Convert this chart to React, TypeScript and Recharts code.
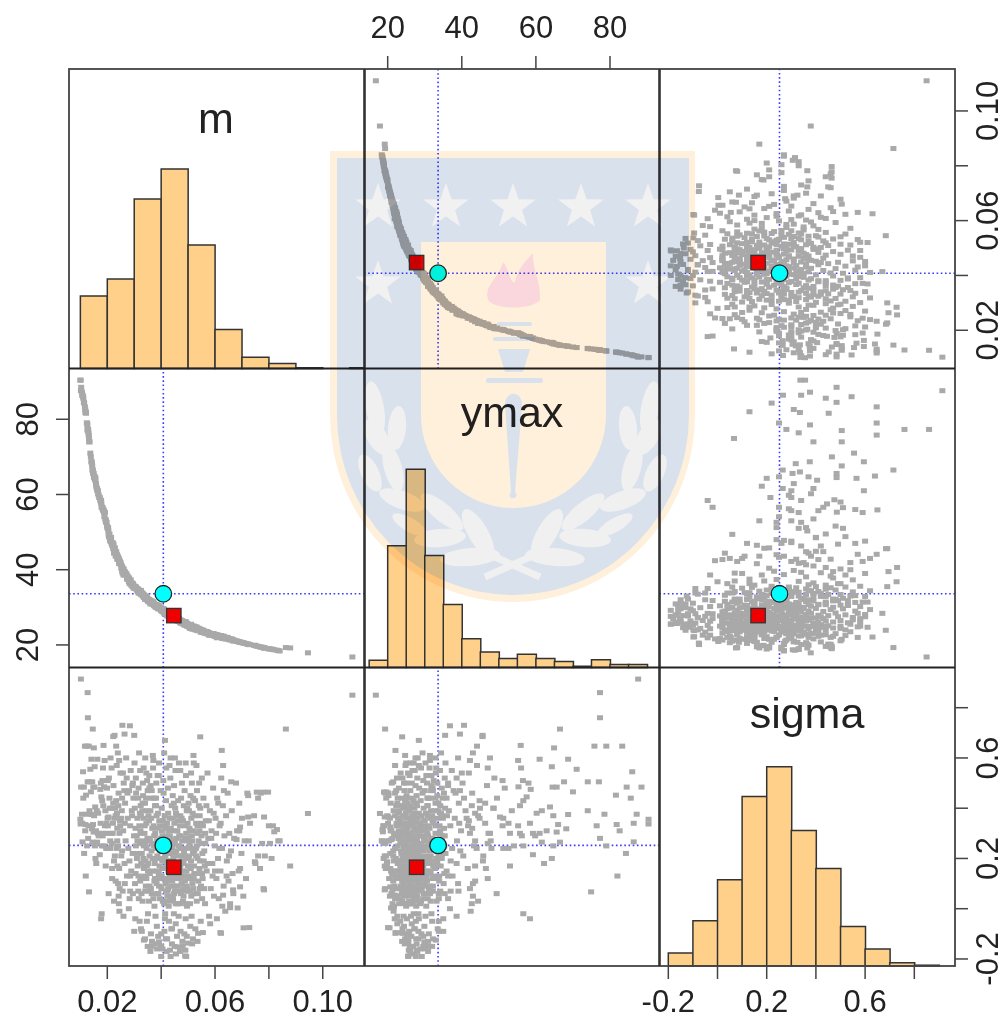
import { Bar, ComposedChart, ReferenceLine, Scatter, XAxis, YAxis } from 'recharts';

const PAGE_W = 1005;
const PAGE_H = 1019;
const colEdges = [69, 364.5, 659.5, 955];
const rowEdges = [69, 368.5, 667.5, 966];

// posterior sample, one row of each array = the same ten draws
const mValues = [
  .0100, .0101, .0103, .0102, .0106, .0107, .0108, .0110, .0111, .0113,
  .0114, .0117, .0118, .0120, .0119, .0121, .0124, .0125, .0126, .0127,
  .0128, .0129, .0127, .0130, .0131, .0132, .0133, .0134, .0137, .0139,
  .0141, .0153, .0150, .0146, .0163, .0144, .0152, .0148, .0142, .0155,
  .0161, .0151, .0147, .0143, .0149, .0145, .0154, .0156, .0159, .0165,
  .0162, .0170, .0168, .0172, .0175, .0166, .0158, .0186, .0190, .0184,
  .0182, .0176, .0188, .0174, .0181, .0178, .0185, .0191, .0183, .0187,
  .0195, .0197, .0204, .0201, .0193, .0199, .0202, .0180, .0189, .0196,
  .0203, .0194, .0179, .0177, .0256, .0264, .0227, .0233, .0239, .0244,
  .0212, .0216, .0258, .0272, .0295, .0293, .0263, .0255, .0222, .0229,
  .0241, .0236, .0209, .0221, .0231, .0251, .0248, .0245, .0237, .0234,
  .0213, .0217, .0210, .0225, .0238, .0218, .0240, .0246, .0242, .0243,
  .0284, .0300, .0222, .0414, .0545, .0520, .0625, .0630, .0660, .0723,
  .0755, .0778, .0797, .0723, .0782, .0815, .0830, .0835, .0804, .0693,
  .0680, .0810, .0879, .0945, .0863, .0748, .0767, .0782, .0727, .0684,
  .0622, .0693, .0667, .0630, .0693, .0489, .0433, .0392, .0462, .0336,
  .0328, .0537, .0518, .0500, .1110, .0493, .0455, .0490, .0480, .0440,
  .0400, .0350, .0620, .0555, .0706, .0656, .0780, .0760, .0725, .0690,
  .0840, .0820, .0800, .0785, .0775, .0770, .0760, .0750, .0745, .0730,
  .0720, .0715, .0710, .0705, .0700, .0698, .0690, .0688, .0682, .0678,
  .0301, .0304, .0307, .0310, .0312, .0315, .0318, .0321, .0324, .0327,
  .0303, .0306, .0309, .0313, .0316, .0319, .0322, .0325, .0328, .0330,
  .0331, .0333, .0336, .0338, .0341, .0343, .0346, .0348, .0351, .0353,
  .0332, .0335, .0337, .0340, .0342, .0345, .0347, .0350, .0352, .0354,
  .0356, .0358, .0360, .0362, .0364, .0367, .0369, .0371, .0373, .0376,
  .0357, .0359, .0361, .0363, .0366, .0368, .0370, .0372, .0375, .0377,
  .0378, .0380, .0382, .0384, .0386, .0388, .0390, .0392, .0394, .0396,
  .0379, .0381, .0383, .0385, .0387, .0389, .0391, .0393, .0395, .0398,
  .0401, .0403, .0405, .0407, .0409, .0411, .0413, .0415, .0417, .0419,
  .0402, .0404, .0406, .0408, .0410, .0412, .0414, .0416, .0418, .0420,
  .0421, .0423, .0425, .0427, .0429, .0431, .0433, .0435, .0437, .0439,
  .0422, .0424, .0426, .0428, .0430, .0432, .0434, .0436, .0438, .0440,
  .0441, .0443, .0445, .0447, .0449, .0451, .0453, .0455, .0457, .0459,
  .0442, .0444, .0446, .0448, .0450, .0452, .0454, .0456, .0458, .0460,
  .0461, .0463, .0465, .0467, .0469, .0471, .0473, .0475, .0477, .0479,
  .0462, .0464, .0466, .0468, .0470, .0472, .0474, .0476, .0478, .0480,
  .0481, .0483, .0485, .0487, .0489, .0491, .0493, .0495, .0497, .0499,
  .0482, .0484, .0486, .0488, .0490, .0492, .0494, .0496, .0498, .0500,
  .0502, .0504, .0506, .0508, .0510, .0512, .0514, .0516, .0518, .0520,
  .0503, .0505, .0507, .0509, .0511, .0513, .0515, .0517, .0519, .0521,
  .0523, .0526, .0529, .0532, .0535, .0538, .0541, .0544, .0547, .0550,
  .0524, .0527, .0530, .0533, .0536, .0539, .0542, .0545, .0548, .0551,
  .0554, .0557, .0560, .0563, .0566, .0569, .0572, .0575, .0578, .0581,
  .0584, .0587, .0590, .0593, .0596, .0599, .0602, .0605, .0608, .0611,
  .0614, .0617, .0620, .0623, .0626, .0629, .0632, .0635, .0638, .0641,
  .0644, .0647, .0650, .0653, .0656, .0659, .0662, .0665, .0668, .0671,
  .0362, .0374, .0384, .0397, .0406, .0416, .0426, .0436, .0446, .0456,
  .0411, .0421, .0431, .0441, .0451, .0461, .0471, .0481, .0491, .0501,
  .0414, .0424, .0434, .0444, .0454, .0464, .0474, .0484, .0494, .0504,
  .0382, .0392, .0402, .0412, .0422, .0432, .0442, .0452, .0462, .0472,
  .0375, .0385, .0395, .0405, .0415, .0425, .0435, .0445, .0455, .0465,
  .0418, .0428, .0438, .0448, .0458, .0468, .0478, .0488, .0498, .0508,
  .0347, .0357, .0367, .0377, .0387, .0397, .0407, .0417, .0427, .0437,
  .0472, .0482, .0492, .0502, .0512, .0522, .0532, .0542, .0552, .0562,
  .0473, .0483, .0493, .0503, .0513, .0523, .0533, .0543, .0553, .0563,
  .0282, .0292, .0302, .0312, .0322, .0332, .0342, .0352, .0362, .0372,
  .0202, .0206, .0208, .0211, .0214, .0218, .0220, .0223, .0226, .0228,
  .0231, .0233, .0235, .0237, .0240, .0242, .0244, .0247, .0249, .0252,
  .0254, .0257, .0259, .0261, .0264, .0266, .0268, .0270, .0273, .0276,
  .0278, .0281, .0283, .0285, .0287, .0289, .0291, .0294, .0297, .0299,
  .0255, .0265, .0275, .0285, .0295, .0305, .0315, .0325, .0335, .0345,
  .0311, .0316, .0321, .0326, .0331, .0336, .0341, .0346, .0351, .0356,
  .0306, .0317, .0323, .0334, .0344, .0349, .0355, .0365, .0374, .0383,
  .0503, .0508, .0514, .0519, .0525, .0530, .0535, .0540, .0546, .0552,
  .0555, .0559, .0564, .0568, .0573, .0577, .0582, .0586, .0591, .0595,
  .0600, .0604, .0607, .0612, .0616, .0621, .0627, .0633, .0643, .0652,
  .0365, .0385, .0400, .0418, .0435, .0450, .0470, .0495, .0515, .0535,
  .0371, .0391, .0411, .0431, .0451, .0471, .0491, .0511, .0531, .0551,
  .0260, .0280, .0300, .0320, .0340, .0360, .0380, .0400, .0420, .0440,
  .0205, .0225, .0245, .0265, .0285, .0305, .0325, .0345, .0365, .0385,
  .0327, .0339, .0355, .0368, .0381, .0394, .0404, .0419, .0433, .0447,
  .0455, .0468, .0476, .0486, .0497, .0507, .0521, .0534, .0543, .0558,
];

const ymaxValues = [
  90.4, 90.4, 88.5, 87.6, 87.2, 86.4, 86.4, 86, 85.6, 84.5,
  84.3, 83.3, 82.6, 82, 81.8, 81.6, 79, 79, 78.5, 77.3,
  77.3, 77.3, 77, 76.4, 75.8, 74.9, 74, 74, 71, 70,
  68.7, 64.3, 64.9, 66.5, 61, 67.6, 64.5, 65.6, 68.7, 63.8,
  61.6, 64.7, 66, 68.2, 65.6, 66.5, 64.7, 64.3, 62.2, 61,
  61.6, 59.2, 59.8, 59.2, 58.4, 60.2, 62.9, 55.9, 55.2, 56,
  56.5, 58, 55.3, 58.6, 56.6, 57.5, 55.7, 55.2, 56.2, 55.7,
  53, 52.6, 50.3, 51.2, 53.5, 51.6, 51, 56.6, 54.1, 52.6,
  51.2, 53, 56.6, 58.4, 40.6, 39.5, 45.6, 44.1, 43, 42.2,
  47.6, 47, 40, 38.6, 36.3, 36.3, 39.5, 40.6, 46.3, 44.9,
  42.7, 43.6, 48.5, 46.3, 44.4, 41.3, 41.7, 42.2, 43.6, 44,
  47.6, 47, 48, 45.7, 43.6, 47, 43, 42.2, 43, 42.7,
  36.8, 35.5, 45.6, 28.4, 23.9, 24.7, 22.1, 22, 21.5, 20.2,
  19.7, 19.3, 19, 20.2, 19.2, 18.8, 18.6, 18.5, 18.9, 20.7,
  21, 18.9, 19.2, 17.9, 19.3, 19.9, 19.5, 19.2, 20.1, 20.9,
  22.1, 20.7, 21.3, 22, 20.7, 25.6, 27.9, 29.9, 26.8, 33,
  33.8, 24, 24.7, 25.3, 16.8, 25.5, 27, 25.7, 26, 27.8,
  29.6, 32, 22.2, 23.8, 20.5, 21.5, 19.3, 19.6, 20.1, 20.8,
  18.4, 18.7, 19, 19.2, 19.4, 19.4, 19.6, 19.8, 19.9, 20.1,
  20.2, 20.4, 20.4, 20.6, 20.6, 20.7, 20.8, 20.9, 21, 21.1,
  35.6, 35, 35.2, 34.6, 34.9, 34.2, 34.4, 34, 34.2, 33.5,
  35.1, 35.4, 34.8, 34.3, 34.6, 34, 34.1, 33.5, 33.7, 33.7,
  33.2, 33.4, 32.8, 32.9, 32.9, 32.2, 32.4, 32.4, 31.8, 32,
  33, 33.1, 32.7, 32.9, 32.4, 32.4, 32, 32.2, 31.7, 31.9,
  31.8, 31.4, 31.7, 31.1, 31.3, 31.3, 31.4, 30.8, 31, 30.5,
  31.4, 31.5, 31.8, 31.5, 30.9, 31, 31.3, 30.9, 30.4, 30.8,
  30.7, 30.3, 30.6, 29.9, 30.2, 30.3, 29.8, 30.2, 29.6, 29.9,
  30.2, 30.7, 30, 30.2, 30.5, 29.6, 29.8, 30, 29.7, 30,
  29.2, 29.6, 28.8, 29.1, 29.4, 28.7, 29, 28.3, 28.6, 29,
  29.7, 29.2, 29, 29.6, 29, 28.3, 28.9, 28.4, 28.9, 28.3,
  28.5, 28, 28.5, 28, 27.6, 28.1, 27.8, 28.1, 27.4, 27.9,
  27.7, 28.1, 28.4, 27.7, 27.9, 27.6, 28, 27.8, 27.2, 27.6,
  27.3, 27.8, 27.4, 27, 27.3, 26.8, 27.3, 26.8, 27, 26.4,
  27.7, 27.1, 27.3, 27.5, 26.9, 27.2, 26.5, 26.9, 26.5, 26.9,
  26.7, 27, 26.3, 26.6, 26.2, 26.6, 26, 26.3, 26.5, 25.6,
  26.4, 26.7, 27, 26.4, 26.6, 25.8, 26.4, 25.9, 26.2, 26,
  26.3, 25.7, 25.9, 26.1, 25.6, 25.2, 25.7, 25.8, 25.1, 25.3,
  26, 26.1, 25.3, 25.5, 25.7, 25.9, 25.3, 25, 25.5, 25.2,
  25.4, 24.8, 25, 24.4, 24.7, 25, 25, 24.3, 24.5, 24.8,
  24.9, 25.2, 24.5, 25.1, 24.7, 24.3, 24.8, 24.9, 24.2, 25,
  24.3, 24.7, 24.4, 24, 24.3, 23.9, 24.4, 23.9, 23.4, 23.9,
  24.8, 24, 24.3, 24.5, 23.8, 24.1, 23.8, 24.1, 23.5, 23.9,
  23.5, 23.9, 23.6, 23.1, 23.4, 23, 23.5, 23.1, 22.6, 23.1,
  22.7, 23, 22.7, 23, 22.4, 22.7, 22.8, 22.2, 22.7, 22.2,
  22, 22.4, 22, 22.5, 22.1, 22.3, 21.8, 22, 21.6, 22,
  21.7, 22, 21.5, 21.7, 21.3, 21.5, 21.6, 21.2, 21, 21.3,
  31.1, 30.5, 30.2, 29.8, 29.1, 28.7, 28.2, 27.9, 27.4, 26.7,
  28.8, 28.3, 27.9, 27.3, 27.1, 26.5, 26.3, 25.8, 25.5, 25,
  28.4, 28.1, 27.6, 27.5, 26.6, 26.5, 26.3, 25.8, 25.3, 25,
  30.2, 29.8, 29.2, 29, 28.7, 28, 27.6, 27, 26.8, 26,
  30.6, 30, 29.6, 29.5, 28.7, 28.2, 27.9, 27.2, 26.8, 26.6,
  28.5, 28.2, 27.6, 27, 27, 26.3, 26, 25.9, 25.4, 25,
  32.3, 31.6, 31.3, 30.5, 30.2, 29.7, 29.7, 29, 28.4, 27.6,
  26.4, 25.8, 25.7, 25.3, 24.5, 24.5, 24.3, 24.1, 23.5, 23.4,
  26.2, 25.9, 25.2, 24.8, 24.8, 24.6, 24.1, 23.8, 23.7, 23.5,
  37, 36, 35.5, 34.6, 33.9, 33.4, 32.6, 31.9, 31.4, 31,
  51, 48.8, 49.5, 47.8, 48.6, 46.5, 47.2, 46.8, 44.8, 45.8,
  43.6, 44.8, 44.1, 42.8, 43.3, 42.8, 41.6, 41.9, 41.9, 40.4,
  41, 39.1, 39.8, 40.2, 38.6, 39.2, 38.7, 39, 37.5, 38.1,
  37.4, 37.8, 36.3, 36.9, 37.3, 35.9, 36.5, 35.6, 35.9, 35.4,
  39.6, 39.3, 38.3, 36.3, 35.4, 35.2, 34.8, 33.8, 33.4, 32.1,
  34.9, 33.9, 34.4, 33.4, 33.7, 32.6, 32.2, 32.8, 31.6, 32.1,
  35.3, 33.8, 34.2, 33.1, 32.9, 32.1, 32.1, 31.7, 30.9, 30.7,
  25.3, 24.7, 24.9, 25, 24.2, 24.6, 24, 24.4, 23.9, 23.4,
  23.8, 23.2, 23.4, 23.6, 22.9, 23.3, 22.6, 23, 22.5, 23,
  22.3, 22.6, 21.9, 22.6, 22, 22.4, 21.7, 22.3, 21.6, 21.5,
  31, 30, 29.2, 28.3, 27.6, 26.9, 26.1, 25.2, 24.6, 23.9,
  31.4, 30.5, 29.4, 28.4, 27.5, 26.7, 26.2, 25.5, 24.8, 24,
  38.6, 36.8, 35, 33.8, 32.2, 30.9, 30, 29.1, 28, 27.3,
  49.4, 44.4, 42.4, 39, 37, 35.3, 34.5, 33, 31.4, 30.4,
  33.8, 33, 31.6, 31.1, 30.7, 29.9, 29.3, 28.7, 27.8, 27.5,
  27.1, 26.5, 26.4, 25.7, 25.6, 25, 24.5, 24.3, 24.2, 23.5,
];

const sigmaValues = [
  .356, .337, .484, .914, .376, .34, .266, .545, .44, .484,
  .22, .647, .31, .13, .335, .452, .647, .25, .376, .86,
  .76, .28, .505, .33, .647, .067, .505, .39, .555, .465,
  .595, .565, .64, .715, .595, .505, .484, .484, .375, .405,
  .39, .37, .335, .318, .305, .265, .25, .2, .18, .3,
  .265, .3, .29, .215, .34, .38, .31, .65, .59, .56,
  .51, .5, .485, .475, .43, .445, .41, .33, .29, .3,
  .3, .34, .365, .36, .39, .48, .51, .25, .25, .24,
  .24, .17, -.02, -.04, .73, .695, .69, .647, .62, .59,
  .6, .56, .54, .52, .5, .49, .47, .44, .42, .4,
  .41, .38, .4, .34, .37, .36, .33, .3, .27, .24,
  .3, .26, .24, .19, .17, .12, .1, .08, .05, .02,
  .728, .69, .685, .67, .684, .61, .63, .57, .505, .45,
  .464, .464, .464, .365, .365, .33, .315, .27, .26, .325,
  .275, .2, .17, .379, .715, .187, .16, .075, -.075, .003,
  -.098, .16, .075, .054, .087, -.188, -.165, -.132, -.152, -.125,
  -.09, -.098, -.12, -.137, .85, -.19, -.18, -.165, -.15, -.14,
  -.15, -.15, -.095, -.095, -.076, .004, .08, .21, .27, .31,
  .27, .306, .33, .21, .26, .46, .44, .18, .37, .34,
  .46, .12, .27, .05, .36, .22, .42, .15, .31, .5,
  .58, -.04, .46, .2, .36, .07, .62, .26, .41, .12,
  .1, .52, .29, .17, .48, .33, .55, -.08, .22, .39,
  .03, .45, .16, .3, .6, .09, .24, .51, -.02, .37,
  .27, .56, .13, .42, .19, .34, -.05, .47, .07, .28,
  .53, .14, .39, -.1, .23, .32, .61, .04, .44, .18,
  .09, .27, .49, .36, -.13, .15, .56, .25, .01, .41,
  .3, .12, .5, -.07, .21, .38, .06, .58, .17, .33,
  -.03, .44, .1, .27, .53, -.11, .14, .35, .23, .47,
  .08, .31, -.16, .2, .46, .12, .37, -.02, .26, .56,
  .4, .16, .03, .51, .24, -.09, .33, .1, .43, .18,
  .29, .05, .48, .15, -.05, .36, .22, .6, .09, .41,
  -.12, .19, .38, .01, .27, .13, .52, .32, -.08, .24,
  .11, .45, .2, -.02, .34, .07, .55, .16, .28, -.11,
  .36, .04, .26, .49, .14, .4, -.06, .23, .09, .31,
  .18, .43, -.03, .29, .12, .37, .06, .21, .5, -.13,
  .02, .25, .58, .16, .33, -.09, .44, .1, .27, .19,
  .35, .05, .22, .47, .13, -.04, .3, .39, .08, .17,
  .24, .41, -.1, .11, .28, .53, .15, .01, .34, .2,
  .42, .07, .26, -.07, .16, .36, .5, .1, .22, .31,
  .13, .32, .02, .45, .19, -.03, .27, .38, .08, .58,
  .14, .43, .24, .03, .33, .11, .5, .19, -.05, .29,
  .37, -.08, .21, .47, .06, .27, .16, .4, .09, .34,
  .12, .44, .23, .02, .35, .15, .54, .28, -.03, .39,
  .08, .31, .18, .48, .05, .25, .36, .12, .44, .2,
  .04, .33, .15, .52, .24, .41, .09, .29, -.01, .37,
  .19, .46, .11, .3, .02, .23, .39, .14, .06, .28,
  .08, .2, .15, .28, .12, .21, .08, .15, .31, .02,
  .02, .11, .19, .05, .27, .09, .17, .03, .2, .12,
  -.04, .07, .04, .16, .02, .13, .24, .13, .09, .21,
  .24, .09, .13, .26, .34, .29, .19, .22, .35, .02,
  .11, .06, .04, .29, .16, .23, .28, .09, .12, .21,
  .07, .22, .12, .06, .37, .07, .15, .33, .27, .31,
  .17, .21, .26, .12, .32, .12, .35, .32, .31, .03,
  .29, .08, .24, .28, .05, .17, .25, .31, .04, .17,
  .13, .18, .02, .07, .24, .23, .14, .08, .22, .3,
  .19, .37, .4, .27, .11, .5, .26, .18, .44, .33,
  .33, .52, .44, .27, .4, .16, .3, .49, .36, .21,
  .11, .43, .57, .32, .25, .46, .16, .35, .54, .21,
  .39, .07, .31, .5, .18, .42, .27, .6, .13, .36,
  .24, .47, .04, .33, .55, .15, .39, .22, .44, .29,
  .23, .34, .46, .13, .06, .32, .44, .3, .36, .12,
  .22, .13, .38, .18, .42, .25, .07, .39, .15, .48,
  .25, .04, .31, .2, .44, .28, .35, .47, .29, .37,
  .39, .12, .29, .44, .06, .34, .2, .41, .26, .14,
  .33, .08, .26, .41, .18, .35, -.06, .28, .13, .38,
  .15, .3, -.04, .42, .24, .34, .01, .47, .13, .21,
  -.15, -.16, -.19, -.12, -.19, -.15, -.17, -.11, -.14, -.13,
  .59, .53, .62, .57, .6, .55, .58, .54, .57, .52,
  -.03, 0, -.09, -.05, -.12, -.17, -.14, -.1, -.17, -.08,
  .06, .03, -.01, .1, .07, .14, .37, .54, .06, .2,
  .06, .33, .03, .2, .41, .25, .19, .03, .12, .42,
  .38, .25, .36, .07, .4, .17, .12, .3, .37, .19,
];

const samples = mValues.map((m, i) => ({ m, ymax: ymaxValues[i], sigma: sigmaValues[i] }));

// cyan circle = true values, red square = estimate
const trueValues = [{ m: 0.0408, ymax: 33.6, sigma: 0.252 }];
const estimateValues = [{ m: 0.0447, ymax: 27.8, sigma: 0.165 }];

const mBins = [.015, .025, .035, .045, .055, .065, .075, .085, .095, .105, .115];
const mCounts = [102, 126, 239, 281, 174, 55, 16, 7, 1, 0, 1];
const ymaxBins = [17.5, 22.5, 27.5, 32.5, 37.5, 42.5, 47.5, 52.5, 57.5, 62.5, 67.5, 72.5, 77.5, 82.5, 87.5];
const ymaxCounts = [12, 203, 331, 187, 105, 48, 26, 15, 22, 15, 10, 2, 13, 5, 5];
const sigmaBins = [-.15, -.05, .05, .15, .25, .35, .45, .55, .65, .75, .85];
const sigmaCounts = [16, 56, 107, 210, 247, 168, 121, 49, 21, 4, 1];

const axes: Record<string, any> = {
  m: { domain: [0.00578, 0.1155], ticks: [0.02, 0.04, 0.06, 0.08, 0.1], labels: ['0.02', '', '0.06', '', '0.10'] },
  ymax: { domain: [13.74, 93.36], ticks: [20, 40, 60, 80], labels: ['20', '40', '60', '80'] },
  sigma: { domain: [-0.2358, 0.9654], ticks: [-0.2, 0, 0.2, 0.4, 0.6, 0.8], labels: ['-0.2', '', '0.2', '', '0.6', ''] },
};
// the y scales differ slightly from the x scales of the same variable
const yDomains: Record<string, number[]> = {
  m: [0.00606, 0.1153],
  ymax: [14, 93.5],
  sigma: [-0.228, 0.96],
};

const tickStroke = { stroke: '#444', strokeWidth: 1.5 };
const LABEL_FONT = '"Liberation Sans", Arial, sans-serif';

function axisTick(name: string, vertical: boolean) {
  return (props: any) => {
    const { x, y, payload } = props;
    const text = axes[name].labels[axes[name].ticks.indexOf(payload.value)];
    return (
      <text
        x={x}
        y={y}
        textAnchor="middle"
        fontSize={31}
        fontFamily={LABEL_FONT}
        fill="#222"
        transform={vertical ? `rotate(-90 ${x} ${y})` : undefined}
      >
        {text}
      </text>
    );
  };
}

function chartMargin(col: number, row: number, sides: { top?: boolean; bottom?: boolean; left?: boolean; right?: boolean }) {
  return {
    left: sides.left ? 0 : colEdges[col],
    right: sides.right ? 0 : PAGE_W - colEdges[col + 1],
    top: sides.top ? 0 : rowEdges[row],
    bottom: sides.bottom ? 0 : PAGE_H - rowEdges[row + 1],
  };
}

const layerStyle: React.CSSProperties = { position: 'absolute', left: 0, top: 0 };

const grainDot = (props: any) => <rect x={props.cx - 3} y={props.cy - 2.5} width={6} height={5} fill="#a9a9a9" />;
const trueDot = (props: any) => <circle cx={props.cx} cy={props.cy} r={8.3} fill="#00ffff" stroke="#222" strokeWidth={1.3} />;
const estimateDot = (props: any) => (
  <rect x={props.cx - 7.2} y={props.cy - 7.2} width={14.4} height={14.4} fill="#ee0000" stroke="#333" strokeWidth={1.3} />
);

function ScatterPanel({ xName, yName, col, row, top, bottom, left, right }: any) {
  const margin = chartMargin(col, row, { top, bottom, left, right });
  return (
    <div style={layerStyle}>
      <ComposedChart width={PAGE_W} height={PAGE_H} margin={margin}>
        <XAxis
          xAxisId={0}
          type="number"
          dataKey={xName}
          domain={axes[xName].domain}
          allowDataOverflow
          hide={!top && !bottom}
          orientation={top ? 'top' : 'bottom'}
          height={top ? rowEdges[0] : PAGE_H - rowEdges[3]}
          ticks={axes[xName].ticks}
          interval={0}
          axisLine={false}
          tickSize={13}
          tickMargin={top ? 18 : 33}
          tickLine={tickStroke}
          tick={axisTick(xName, false)}
        />
        <YAxis
          yAxisId={0}
          type="number"
          dataKey={yName}
          domain={yDomains[yName]}
          allowDataOverflow
          hide={!left && !right}
          orientation={left ? 'left' : 'right'}
          width={left ? colEdges[0] : PAGE_W - colEdges[3]}
          ticks={axes[yName].ticks}
          interval={0}
          axisLine={false}
          tickSize={13}
          tickMargin={left ? 18 : 30}
          tickLine={tickStroke}
          tick={axisTick(yName, true)}
        />
        <Scatter data={samples} shape={grainDot} isAnimationActive={false} />
        <ReferenceLine x={trueValues[0][xName]} stroke="#3a3aff" strokeWidth={1.6} strokeDasharray="1.6 2.6" />
        <ReferenceLine y={trueValues[0][yName]} stroke="#3a3aff" strokeWidth={1.6} strokeDasharray="1.6 2.6" />
        <Scatter data={estimateValues} shape={estimateDot} isAnimationActive={false} />
        <Scatter data={trueValues} shape={trueDot} isAnimationActive={false} />
      </ComposedChart>
    </div>
  );
}

function HistPanel({ name, bins, counts, countMax, col, row, withAxes }: any) {
  const data = bins.map((bin: number, i: number) => ({ bin, count: counts[i] }));
  const margin = chartMargin(col, row, { bottom: withAxes, right: withAxes });
  return (
    <div style={layerStyle}>
      <ComposedChart width={PAGE_W} height={PAGE_H} data={data} margin={margin} barCategoryGap={0} barGap={0}>
        <XAxis
          type="number"
          dataKey="bin"
          domain={axes[name].domain}
          allowDataOverflow
          hide={!withAxes}
          height={PAGE_H - rowEdges[3]}
          ticks={axes[name].ticks}
          interval={0}
          axisLine={false}
          tickSize={13}
          tickMargin={33}
          tickLine={tickStroke}
          tick={axisTick(name, false)}
        />
        <YAxis yAxisId="count" type="number" domain={[0, countMax]} hide />
        <YAxis
          yAxisId="value"
          type="number"
          orientation="right"
          domain={yDomains[name]}
          allowDataOverflow
          hide={!withAxes}
          width={PAGE_W - colEdges[3]}
          ticks={axes[name].ticks}
          interval={0}
          axisLine={false}
          tickSize={13}
          tickMargin={30}
          tickLine={tickStroke}
          tick={axisTick(name, true)}
        />
        <Bar yAxisId="count" dataKey="count" fill="#ffd08a" stroke="#333" strokeWidth={1.5} isAnimationActive={false} />
      </ComposedChart>
    </div>
  );
}

function starPoints(cx: number, cy: number, r: number) {
  const pts = [];
  for (let i = 0; i < 10; i++) {
    const rad = i % 2 ? r * 0.4 : r;
    const a = (Math.PI * i) / 5 - Math.PI / 2;
    pts.push(`${cx + rad * Math.cos(a)},${cy + rad * Math.sin(a)}`);
  }
  return pts.join(' ');
}

const crestStars = [
  [378, 207], [446, 207], [513, 207], [581, 207], [648, 207], [378, 284], [648, 284],
];
// left half of the laurel, mirrored about the shield axis: cx, cy, rx, ry, angle
const crestLeaves = [
  [375, 408, 9, 27, -10], [397, 428, 9, 22, 5], [377, 437, 10, 20, -30], [393, 468, 9, 24, -15],
  [370, 473, 9, 20, -25], [402, 500, 9, 24, -70], [442, 512, 9, 27, -50], [410, 525, 7, 20, -60],
  [440, 538, 9, 26, 85], [478, 533, 10, 27, -30], [470, 557, 9, 30, 85],
];
const AXIS_X = 512.5;

// the university crest lies over the plot, faded
function Crest() {
  return (
    <svg width={PAGE_W} height={PAGE_H} style={{ ...layerStyle, mixBlendMode: 'multiply', pointerEvents: 'none' }}>
      <path d="M330 151 H695 V415 A182.5 187 0 0 1 330 415 Z" fill="#fff0dc" />
      <path d="M337 158 H689 V415 A176 180 0 0 1 337 415 Z" fill="#d9e1ec" />
      {crestStars.map(([x, y]) => (
        <polygon key={`${x}-${y}`} points={starPoints(x, y, 24)} fill="#f1f1f1" />
      ))}
      {crestLeaves.map(([cx, cy, rx, ry, a]) => (
        <g key={`${cx}-${cy}`} fill="#f0f0f0">
          <ellipse cx={cx} cy={cy} rx={rx} ry={ry} transform={`rotate(${a} ${cx} ${cy})`} />
          <ellipse cx={2 * AXIS_X - cx} cy={cy} rx={rx} ry={ry} transform={`rotate(${-a} ${2 * AXIS_X - cx} ${cy})`} />
        </g>
      ))}
      <path d="M485 577 L530 557 M540 577 L495 557" stroke="#f0f0f0" strokeWidth={7} />
      <path d="M421 242 H606 V415 A92.5 93 0 0 1 421 415 Z" fill="#fff0dc" />
      <path
        d="M488 300 C484 285 498 280 503 262 C510 270 510 285 515 282 C518 268 525 262 533 253 C532 270 541 280 540 300 C532 310 495 310 488 300 Z"
        fill="#f9d7dc"
      />
      <rect x={497} y={322} width={35} height={4} rx={2} fill="#d9e1ec" />
      <rect x={493} y={337} width={42} height={4} rx={2} fill="#d9e1ec" />
      <path d="M498 349 H530 L523 372 H505 Z" fill="#d9e1ec" />
      <rect x={486} y={378} width={57} height={5} rx={2.5} fill="#d9e1ec" />
      <path d="M505 405 C505 390 522 390 522 405 L515 492 A3.5 3.5 0 1 1 511 492 Z" fill="#d9e1ec" />
    </svg>
  );
}

function Frame() {
  return (
    <svg width={PAGE_W} height={PAGE_H} style={layerStyle}>
      <rect x={69} y={69} width={886} height={897} fill="none" stroke="#444" strokeWidth={1.8} />
      {[colEdges[1], colEdges[2]].map((x) => (
        <line key={x} x1={x} x2={x} y1={69} y2={966} stroke="#333" strokeWidth={2.6} />
      ))}
      {[rowEdges[1], rowEdges[2]].map((y) => (
        <line key={y} x1={69} x2={955} y1={y} y2={y} stroke="#222" strokeWidth={2} />
      ))}
      <g fontFamily={LABEL_FONT} fontSize={43} fill="#222" textAnchor="middle">
        <text x={216} y={133}>m</text>
        <text x={512} y={427}>ymax</text>
        <text x={807} y={728}>sigma</text>
      </g>
    </svg>
  );
}

export default function App() {
  return (
    <div style={{ position: 'absolute', left: 0, top: 0, width: PAGE_W, height: PAGE_H, background: '#fff' }}>
      <HistPanel name="m" bins={mBins} counts={mCounts} countMax={422} col={0} row={0} />
      <ScatterPanel xName="ymax" yName="m" col={1} row={0} top />
      <ScatterPanel xName="sigma" yName="m" col={2} row={0} right />
      <ScatterPanel xName="m" yName="ymax" col={0} row={1} left />
      <HistPanel name="ymax" bins={ymaxBins} counts={ymaxCounts} countMax={499} col={1} row={1} />
      <ScatterPanel xName="sigma" yName="ymax" col={2} row={1} />
      <ScatterPanel xName="m" yName="sigma" col={0} row={2} bottom />
      <ScatterPanel xName="ymax" yName="sigma" col={1} row={2} />
      <HistPanel name="sigma" bins={sigmaBins} counts={sigmaCounts} countMax={370} col={2} row={2} withAxes />
      <Frame />
      <Crest />
    </div>
  );
}
